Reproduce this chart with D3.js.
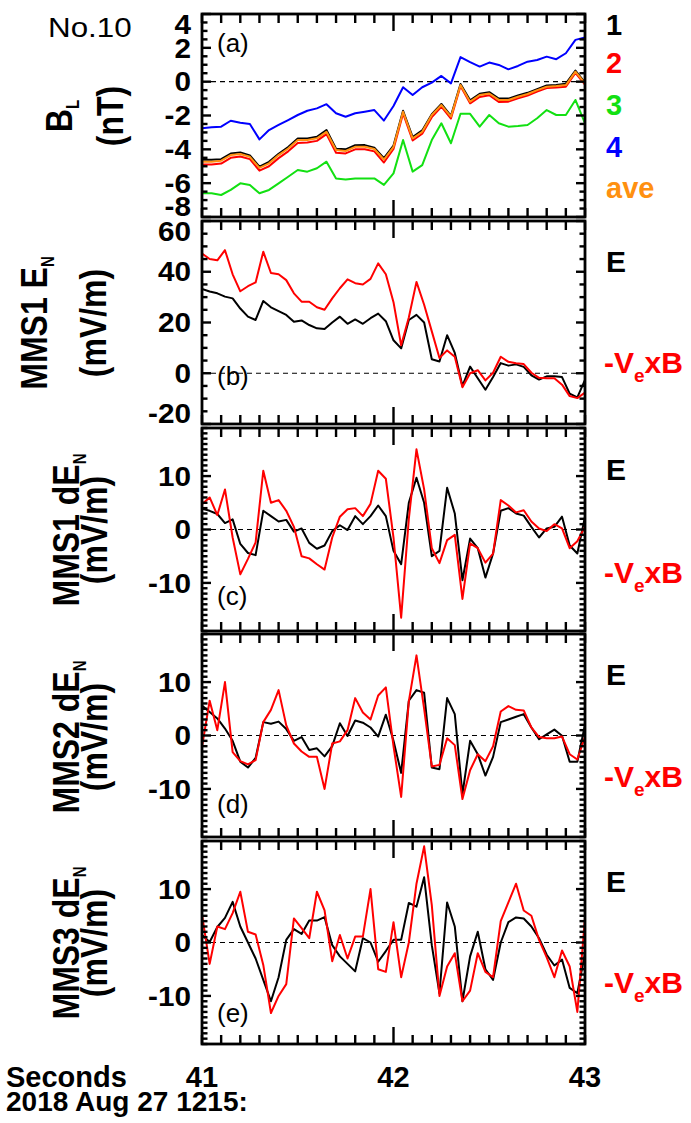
<!DOCTYPE html>
<html>
<head>
<meta charset="utf-8">
<script src="https://cdn.jsdelivr.net/npm/d3@7"></script>
<style>
  body { margin: 0; background: #fff; }
  text { font-family: "Liberation Sans", Arial, Helvetica, sans-serif; }
</style>
</head>
<body>
<div class="canvas"></div>
<script>
// ---- data ----
// panel (a) time grid, seconds after 12:15
const tB = [41.00, 41.05, 41.10, 41.15, 41.20, 41.25, 41.30, 41.35, 41.40, 41.45,
            41.50, 41.55, 41.60, 41.65, 41.70, 41.75, 41.80, 41.85, 41.90, 41.95,
            42.00, 42.05, 42.10, 42.15, 42.20, 42.25, 42.30, 42.35, 42.40, 42.45,
            42.50, 42.55, 42.60, 42.65, 42.70, 42.75, 42.80, 42.85, 42.90, 42.95, 43.00];

const bl1 = [-4.62, -4.62, -4.58, -4.25, -4.18, -4.36, -5.02, -4.74, -4.26, -3.86,
             -3.36, -3.36, -3.26, -2.86, -3.96, -4.00, -3.76, -3.75, -3.90, -4.52,
             -3.78, -1.72, -3.28, -2.88, -1.92, -1.32, -2.02, -0.14, -1.10, -0.72,
             -0.62, -1.00, -1.00, -0.82, -0.66, -0.44, -0.22, -0.20, -0.12, 0.66, -0.05];
const bl2 = [-4.90, -4.90, -4.84, -4.50, -4.42, -4.58, -5.26, -5.00, -4.52, -4.12,
             -3.62, -3.60, -3.50, -3.10, -4.20, -4.24, -4.00, -4.00, -4.12, -4.78,
             -3.98, -1.88, -3.48, -3.08, -2.10, -1.48, -2.18, -0.26, -1.28, -0.90,
             -0.80, -1.20, -1.18, -0.98, -0.82, -0.58, -0.38, -0.34, -0.30, 0.52, -0.18];
const bl3 = [-6.60, -6.60, -6.70, -6.40, -6.01, -6.11, -6.60, -6.40, -6.01, -5.62,
             -5.22, -5.32, -5.12, -4.73, -5.72, -5.78, -5.72, -5.72, -5.72, -6.10,
             -5.42, -3.45, -5.32, -4.93, -3.45, -2.46, -3.64, -1.90, -1.90, -2.66,
             -1.97, -2.46, -2.66, -2.62, -2.56, -2.16, -1.68, -1.97, -1.97, -1.08, -2.46];
const bl4 = [-2.76, -2.70, -2.66, -2.31, -2.43, -2.50, -3.41, -2.86, -2.56, -2.27,
             -1.97, -1.72, -1.58, -1.33, -1.87, -2.07, -1.87, -1.78, -1.68, -2.30,
             -1.44, -0.33, -0.79, -0.33, -0.06, 0.34, -0.10, 1.45, 1.15, 0.89,
             1.13, 0.99, 0.73, 0.93, 1.18, 1.28, 1.48, 1.33, 1.68, 2.47, 2.62];
const blAve = [-4.73, -4.73, -4.67, -4.34, -4.28, -4.44, -5.10, -4.83, -4.34, -3.95,
               -3.45, -3.45, -3.35, -2.96, -4.04, -4.10, -3.85, -3.85, -3.98, -4.60,
               -3.85, -1.78, -3.35, -2.96, -1.97, -1.38, -2.07, -0.20, -1.18, -0.79,
               -0.70, -1.08, -1.08, -0.89, -0.73, -0.50, -0.30, -0.26, -0.20, 0.59, -0.10];

// panels (b)-(e) time grid
const tE = [41.00, 41.04, 41.08, 41.12, 41.16, 41.20, 41.24, 41.28, 41.32, 41.36,
            41.40, 41.44, 41.48, 41.52, 41.56, 41.60, 41.64, 41.68, 41.72, 41.76,
            41.80, 41.84, 41.88, 41.92, 41.96, 42.00, 42.04, 42.08, 42.12, 42.16,
            42.20, 42.24, 42.28, 42.32, 42.36, 42.40, 42.44, 42.48, 42.52, 42.56,
            42.60, 42.64, 42.68, 42.72, 42.76, 42.80, 42.84, 42.88, 42.92, 42.96, 43.00];

// (b) MMS1 E_N
const enE  = [33.2, 32.2, 31.5, 30.2, 29.5, 25.5, 22.3, 21.0, 28.5, 26.0, 24.5, 23.0, 20.3, 20.8, 19.0, 17.7, 17.4, 20.0,
              22.3, 19.5, 21.2, 19.5, 21.7, 23.5, 20.5, 13.0, 9.8, 21.0, 23.0, 20.0, 5.5, 4.6, 15.0, 8.0, -5.0, 2.6, -2.0,
              -6.5, -1.5, 4.0, 3.0, 3.5, 2.5, -0.8, -2.5, -1.2, -1.2, -1.5, -8.0, -9.5, -2.6];
const enVB = [47.2, 45.0, 44.5, 48.5, 39.0, 32.3, 34.3, 35.8, 47.9, 39.5, 39.0, 36.7, 31.5, 28.2, 28.2, 26.0, 25.0, 29.5,
              33.5, 37.0, 35.5, 35.0, 37.2, 43.3, 39.0, 28.0, 11.0, 22.0, 36.0, 27.0, 16.5, 6.0, 9.0, 6.5, -5.5, 0.0, 1.2,
              -2.8, 0.2, 6.5, 4.5, 3.9, 3.6, 0.2, -1.8, -2.0, -2.0, -4.5, -9.0, -9.8, -7.6];
// (c) MMS1 dE_N
const d1E  = [3.9, 3.5, 2.9, 1.2, 1.9, -2.7, -4.4, -4.8, 3.5, 2.5, 1.5, 1.8, -0.4, 0.2, -2.5, -3.6, -3.0, -0.3,
              0.8, -0.1, 2.5, 1.0, 2.5, 4.5, 2.5, -4.0, -6.5, 5.0, 9.7, 5.0, -5.0, -4.0, 7.8, 3.0, -9.5, -1.7, -3.5,
              -9.0, -4.5, 3.5, 4.0, 3.0, 2.6, 0.5, -1.5, 0.2, 0.5, 2.4, -3.0, -4.5, 2.4];
const d1VB = [4.75, 6.0, 2.7, 7.5, -1.5, -8.4, -5.5, -2.4, 11.0, 5.0, 5.5, 3.5, 0.5, -5.0, -5.4, -6.5, -7.5, -1.5,
              2.4, 3.8, 4.0, 2.5, 4.8, 11.0, 9.5, -1.5, -16.5, 2.0, 15.0, 7.5, -3.5, -6.3, -2.0, -1.0, -13.0, -2.6, -3.5,
              -6.2, -4.5, 5.5, 4.5, 3.2, 3.6, 1.5, 0.2, -0.3, 1.0, 0.2, -3.5, -2.2, 0.5];
// (d) MMS2 dE_N
const d2E  = [5.6, 4.4, 3.2, 1.3, -1.0, -4.9, -6.0, -4.2, 2.5, 2.2, 2.6, 1.2, -1.0, -0.3, -2.7, -2.4, -3.9, -2.0,
              2.3, -0.1, 2.8, 2.4, 1.5, -0.2, 3.9, -1.0, -7.0, 6.5, 8.5, 8.0, -6.0, -6.3, 7.0, 4.0, -11.0, -1.0, -3.5,
              -7.5, -4.0, 2.5, 3.0, 3.5, 4.0, 1.5, -0.7, 0.2, 1.1, -0.05, -4.9, -4.9, 2.0];
const d2VB = [-2.1, 6.5, 1.0, 10.0, -3.1, -4.8, -5.4, -4.6, 2.5, 4.8, 8.5, 1.9, -1.5, -3.0, -4.0, -4.0, -10.0, -1.5,
              -1.1, 1.0, 7.0, 4.3, 3.0, 7.5, 9.0, -2.0, -11.5, 6.4, 15.0, 5.0, -5.8, -5.5, -0.5, -1.8, -11.9, -6.5, -3.5,
              -4.8, -2.0, 4.5, 5.5, 4.8, 4.7, 1.5, -0.3, -0.5, -0.5, -0.2, -3.5, -4.5, -0.2];
// (e) MMS3 dE_N
const d3E  = [1.4, 0.1, 2.9, 4.6, 7.6, 3.0, 0.0, -3.0, -7.0, -11.0, -6.5, 0.5, 2.5, 1.6, 4.1, 4.1, 4.75, -0.5,
              -2.6, -4.0, -5.4, 0.8, 0.0, -3.6, -1.6, 0.5, 0.5, 7.4, 6.7, 12.2, -0.5, -9.5, 7.5, 3.0, -11.0, -2.6, 2.0,
              -5.0, -7.0, 0.0, 3.8, 4.7, 4.5, 3.0, 0.8, -2.3, -4.3, -3.2, -8.5, -9.5, -2.0];
const d3VB = [5.2, -4.0, 3.0, 2.5, 5.5, 9.5, 2.0, 1.5, -4.2, -13.2, -10.0, -7.8, 4.5, 2.7, 0.8, 9.5, 6.0, -3.5,
              1.4, -3.0, 1.1, 1.1, 10.0, -5.0, -5.5, 3.8, -6.5, 0.0, 11.0, 18.0, 7.0, -10.0, -4.5, -2.0, -11.0, -9.0, -2.0,
              -5.5, -6.5, 4.0, 7.5, 11.0, 6.0, 5.0, 0.5, -2.8, -6.5, -1.5, -4.5, -13.0, 4.6];

const xTickLabels = [41, 42, 43];
const bLegend = ["1", "2", "3", "4", "ave"];

// ---- layout ----
const W = 691, H = 1123;
const PH = 203;
const red = "#ff0000", black = "#000000", green = "#12e012", blue = "#0000ff", orange = "#ff9010";

const svg = d3.select(".canvas")
  .append("svg")
  .attr("width", W)
  .attr("height", H);

svg.append("rect").attr("width", W).attr("height", H).attr("fill", "#fff");

const x = d3.scaleLinear().domain([41, 43]).range([202, 585]);

const panels = [
  { top: 14,  domain: [-8, 4],   ticks: [4, 2, 0, -2, -4, -6, -8], minor: 0.5, tag: "(a)", tagY: 52,
    title: [[{ t: "B" }, { t: "L", sub: true }], [{ t: "(nT)" }]], titleX: [72, 123], titleY: 116,
    series: [[tB, bl4, blue], [tB, bl3, green], [tB, bl1, black], [tB, bl2, red], [tB, blAve, orange]] },
  { top: 221, domain: [-20, 60], ticks: [60, 40, 20, 0, -20], minor: 5, tag: "(b)", tagY: 385,
    title: [[{ t: "MMS1 E" }, { t: "N", sub: true }], [{ t: "(mV/m)" }]], titleX: [47, 106], titleY: 323,
    series: [[tE, enE, black], [tE, enVB, red]] },
  { top: 428, domain: [-19, 19], ticks: [10, 0, -10], minor: 1, tag: "(c)", tagY: 605,
    title: [[{ t: "MMS1 dE" }, { t: "N", sub: true }], [{ t: "(mV/m)" }]], titleX: [79, 107], titleY: 530,
    series: [[tE, d1E, black], [tE, d1VB, red]] },
  { top: 634, domain: [-19, 19], ticks: [10, 0, -10], minor: 1, tag: "(d)", tagY: 813,
    title: [[{ t: "MMS2 dE" }, { t: "N", sub: true }], [{ t: "(mV/m)" }]], titleX: [79, 107], titleY: 737,
    series: [[tE, d2E, black], [tE, d2VB, red]] },
  { top: 841, domain: [-19, 19], ticks: [10, 0, -10], minor: 1, tag: "(e)", tagY: 1022,
    title: [[{ t: "MMS3 dE" }, { t: "N", sub: true }], [{ t: "(mV/m)" }]], titleX: [79, 107], titleY: 943,
    series: [[tE, d3E, black], [tE, d3VB, red]] }
];

const minorX = d3.range(0, 21).map(i => 41 + i / 10);

function addText(g, parts, subSize, subDy) {
  parts.forEach((p, i) => {
    const ts = g.append("tspan").text(p.t);
    if (p.sub) ts.attr("font-size", subSize).attr("dy", subDy);
    else if (i > 0 && parts[i - 1].sub) ts.attr("dy", -subDy);
  });
}

panels.forEach((p, pi) => {
  const bottom = p.top + PH;
  const y = d3.scaleLinear().domain(p.domain).range([bottom, p.top]);
  const g = svg.append("g");

  const clipId = "clip" + pi;
  svg.append("clipPath").attr("id", clipId)
    .append("rect").attr("x", 202).attr("y", p.top).attr("width", 383).attr("height", PH);

  // zero line
  g.append("line")
    .attr("x1", 202).attr("x2", 585)
    .attr("y1", y(0)).attr("y2", y(0))
    .attr("stroke", "#000").attr("stroke-width", 1.2)
    .attr("stroke-dasharray", "5,4");

  // series
  const plot = g.append("g").attr("clip-path", `url(#${clipId})`);
  p.series.forEach(([ts, vs, col]) => {
    const line = d3.line().x((d, i) => x(ts[i])).y(d => y(d));
    plot.append("path")
      .datum(vs)
      .attr("d", line)
      .attr("fill", "none")
      .attr("stroke", col)
      .attr("stroke-width", 2)
      .attr("stroke-linejoin", "round");
  });

  // ticks as small filled bars, pointing inwards on all four sides
  const tw = 2.4;
  const xTicks = g.append("g").attr("fill", "#000");
  minorX.forEach(v => {
    const len = Math.abs(v - 42) < 1e-6 ? 17 : 9;
    const xx = x(v);
    xTicks.append("rect").attr("x", xx - tw / 2).attr("y", bottom - len).attr("width", tw).attr("height", len);
    xTicks.append("rect").attr("x", xx - tw / 2).attr("y", p.top).attr("width", tw).attr("height", len);
  });
  const nY = Math.round((p.domain[1] - p.domain[0]) / p.minor);
  d3.range(0, nY + 1).forEach(i => {
    const v = p.domain[0] + i * p.minor;
    const len = p.ticks.some(t => Math.abs(t - v) < 1e-6) ? 9 : 5.5;
    const yy = y(v);
    xTicks.append("rect").attr("x", 202).attr("y", yy - tw / 2).attr("width", len).attr("height", tw);
    xTicks.append("rect").attr("x", 585 - len).attr("y", yy - tw / 2).attr("width", len).attr("height", tw);
  });

  // frame
  g.append("rect")
    .attr("x", 202).attr("y", p.top)
    .attr("width", 383).attr("height", PH)
    .attr("fill", "none").attr("stroke", "#000").attr("stroke-width", 2.8);

  // y tick labels
  const fs = 27;
  p.ticks.forEach(v => {
    const cy = Math.min(Math.max(y(v), p.top + 10), bottom - 11);
    svg.append("text")
      .attr("transform", `translate(191,${cy + fs * 0.36}) scale(1.1,1)`)
      .attr("text-anchor", "end")
      .attr("font-size", fs).attr("font-weight", "bold")
      .text(v);
  });

  // panel tag
  svg.append("text")
    .attr("x", 217).attr("y", p.tagY)
    .attr("font-size", 26)
    .text(p.tag);

  // y title, rotated
  p.title.forEach((parts, li) => {
    const t = svg.append("text")
      .attr("transform", `translate(${p.titleX[li]},${p.titleY}) rotate(-90) scale(1,1.18)`)
      .attr("text-anchor", "middle")
      .attr("font-size", 32).attr("font-weight", "bold");
    addText(t, parts, 15, 6);
  });
});

// legend panel (a)
const legCols = [black, red, green, blue, orange];
const legY = [35, 73, 115, 157, 198];
bLegend.forEach((s, i) => {
  svg.append("text")
    .attr("x", 606).attr("y", legY[i])
    .attr("font-size", 29).attr("font-weight", "bold")
    .attr("fill", legCols[i])
    .text(s);
});

// legends panels (b)-(e)
const eY = [272, 480, 685, 892];
const vY = [373, 583, 787, 993];
eY.forEach((yy, i) => {
  svg.append("text")
    .attr("x", 606).attr("y", yy)
    .attr("font-size", 30).attr("font-weight", "bold")
    .text("E");
  const t = svg.append("text")
    .attr("x", 604).attr("y", vY[i])
    .attr("font-size", 30).attr("font-weight", "bold")
    .attr("fill", red);
  addText(t, [{ t: "-V" }, { t: "e", sub: true }, { t: "xB" }], 19, 9);
});

// x tick labels
xTickLabels.forEach(v => {
  svg.append("text")
    .attr("x", x(v)).attr("y", 1087)
    .attr("text-anchor", "middle")
    .attr("font-size", 29).attr("font-weight", "bold")
    .text(v);
});

svg.append("text").attr("x", 6).attr("y", 1087)
  .attr("font-size", 29).attr("font-weight", "bold").text("Seconds");
svg.append("text").attr("x", 6).attr("y", 1111)
  .attr("font-size", 28).attr("font-weight", "bold").text("2018 Aug 27 1215:");

svg.append("text")
  .attr("transform", "translate(48,37) scale(1.12,1)")
  .attr("font-size", 28).text("No.10");
</script>
</body>
</html>
